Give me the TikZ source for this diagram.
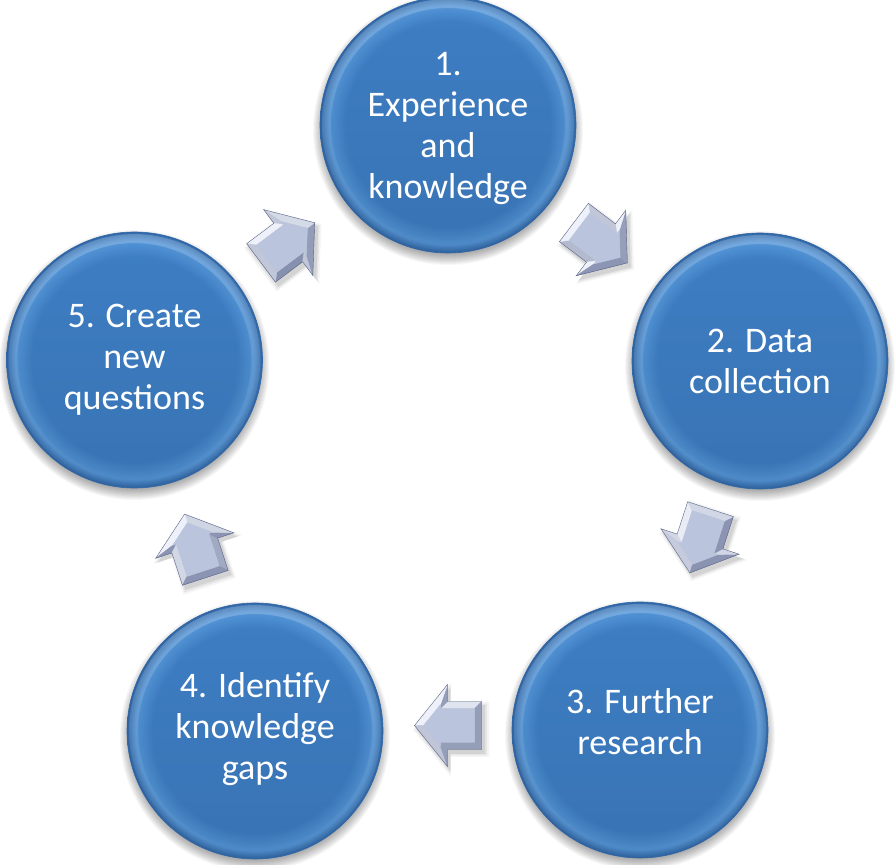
\documentclass[tikz,border=0pt]{standalone}
\usepackage{fontspec}
\setmainfont{Carlito}
\usetikzlibrary{calc,fadings}

\definecolor{cA}{RGB}{62,126,196}
\definecolor{cB}{RGB}{84,150,216}
\definecolor{cC}{RGB}{48,102,166}
\definecolor{arrhi}{RGB}{242,245,252}
\definecolor{arrlo}{RGB}{110,122,158}
\definecolor{arrface}{RGB}{186,196,220}

\pgfdeclareradialshading{bubble}{\pgfpoint{0bp}{0bp}}{color(0bp)=(cA); color(20bp)=(cA); color(23.3bp)=(cB); color(25bp)=(cC); color(50bp)=(cC)}

\tikzset{
  stage/.style={circle, minimum size=256pt, inner sep=0pt, shading=bubble, draw=cC, line width=0.6pt},
  lbl/.style={text=white, align=center, inner sep=0pt, font=\fontsize{36}{41}\selectfont},
}

% #1,#2: circle nodes, #3: angle, #4: extra offset
\newcommand\bevarrow[4]{%
  \begin{scope}[shift={($(#1)!0.5!(#2)+#4$)}]
    \begin{scope}[shift={(3,-4)}, rotate=#3]
      \foreach \s/\o in {1.14/0.04, 1.08/0.06, 1.02/0.08} {
        \fill[black, opacity=\o, scale=\s] (-34,-24) -- (0,-24) -- (0,-41) -- (33,0) -- (0,41) -- (0,24) -- (-34,24) -- cycle;
      }
    \end{scope}
    \begin{scope}[rotate=#3]
      \coordinate (O1) at (-34,-24); \coordinate (O2) at (0,-24);
      \coordinate (O3) at (0,-41);   \coordinate (O4) at (33,0);
      \coordinate (O5) at (0,41);    \coordinate (O6) at (0,24);
      \coordinate (O7) at (-34,24);
      \coordinate (I1) at (-27,-17); \coordinate (I2) at (7,-17);
      \coordinate (I3) at (7,-21);   \coordinate (I4) at (24,0);
      \coordinate (I5) at (7,21);    \coordinate (I6) at (7,17);
      \coordinate (I7) at (-27,17);
      \foreach \i/\j/\n in {1/2/-90, 2/3/180, 3/4/-38.8, 4/5/38.8, 5/6/180, 6/7/90, 7/1/180} {
        \pgfmathtruncatemacro\pp{58+40*cos(\n+(#3)-135)}
        \filldraw[fill=arrhi!\pp!arrlo, draw=arrhi!\pp!arrlo, line width=0.3pt]
          (O\i) -- (O\j) -- (I\j) -- (I\i) -- cycle;
      }
      \filldraw[fill=arrface, draw=arrface, line width=0.3pt]
        (I1) -- (I2) -- (I3) -- (I4) -- (I5) -- (I6) -- (I7) -- cycle;
      \draw[arrlo!85!black, line width=0.4pt]
        (O1) -- (O2) -- (O3) -- (O4) -- (O5) -- (O6) -- (O7) -- cycle;
    \end{scope}
  \end{scope}
}

\begin{document}
\begin{tikzpicture}[x=1pt,y=1pt]
\useasboundingbox (0,0) rectangle (895,865);
\fill[white] (0,0) rectangle (895,865);

% soft shadows under the circles
\foreach \x/\y in {448/740, 760/504, 640/135, 255/134, 134.5/505} {
  \foreach \r in {124,...,135} {
    \fill[black, opacity=0.03] (\x,\y-5) circle (\r);
  }
}

% circles
\node[stage] (c1) at (448,740) {};
\node[stage] (c2) at (760,504) {};
\node[stage] (c3) at (640,135) {};
\node[stage] (c4) at (255,134) {};
\node[stage] (c5) at (134.5,505) {};

% lighting on the circles
\foreach \c in {c1,c2,c3,c4,c5} {
  \fill[black, opacity=0.08, path fading=north] (\c.center) circle (127.5);
  \fill[white, opacity=0.2, path fading=south, even odd rule]
    (\c.center) circle (126) (\c.center) circle (117);
}

% texts
\node[lbl] (t1) at ($(c1)+(0,-4)$) {1.\\Experience\\and\\knowledge};
\node[lbl] (t2) at ($(c2)+(0,0)$) {2. Data\\collection};
\node[lbl] (t3) at ($(c3)+(0,8)$) {3. Further\\research};
\node[lbl] (t4) at ($(c4)+(0,2)$) {4. Identify\\knowledge\\gaps};
\node[lbl] (t5) at ($(c5)+(0,0)$) {5. Create\\new\\questions};

% arrows
\bevarrow{c1}{c2}{-37.1}{(-3,0)}
\bevarrow{c2}{c3}{-108}{(0,4)}
\bevarrow{c3}{c4}{180}{(0,5)}
\bevarrow{c4}{c5}{108}{(0,0)}
\bevarrow{c5}{c1}{36.8}{(-3,0)}
\end{tikzpicture}
\end{document}
